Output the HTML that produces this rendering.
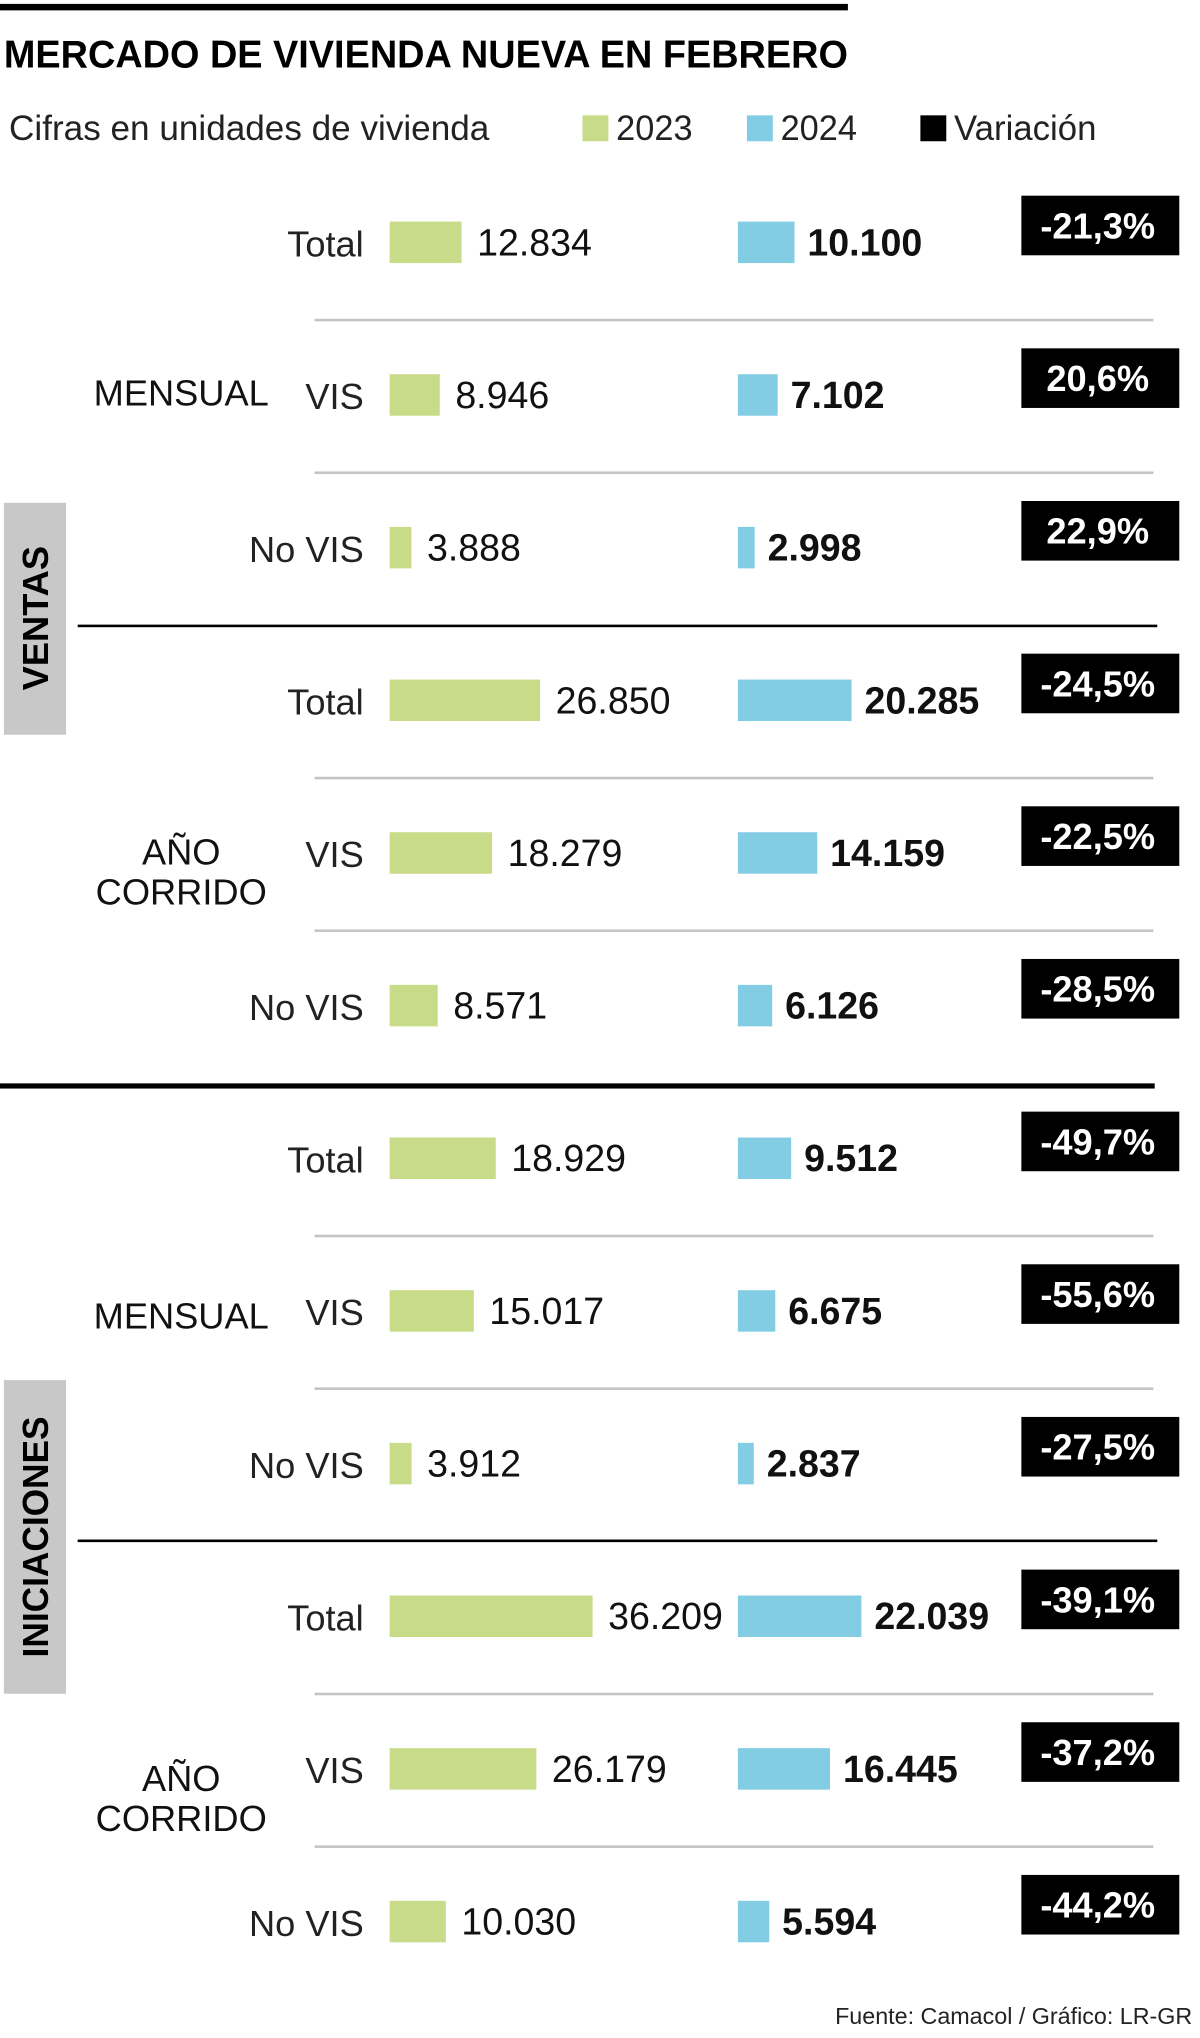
<!DOCTYPE html>
<html><head><meta charset="utf-8"><style>
html,body{margin:0;padding:0;background:#fff;width:1200px;height:2032px;overflow:hidden}
#w{position:absolute;left:0;top:0;width:927px;height:1568px;transform-origin:0 0;transform:scale(1.2945,1.2959);font-family:"Liberation Sans",sans-serif}
svg text{font-family:"Liberation Sans",sans-serif}
</style></head><body>
<div id="w">
<svg id="s" width="927" height="1568">
<rect x="0" y="3" width="655" height="5" fill="#000"/>
<text x="3" y="52" font-size="30" font-weight="bold" textLength="652" lengthAdjust="spacingAndGlyphs">MERCADO DE VIVIENDA NUEVA EN FEBRERO</text>
<text x="7" y="108" font-size="27" fill="#222" textLength="371" lengthAdjust="spacingAndGlyphs">Cifras en unidades de vivienda</text>
<rect x="450" y="89" width="20" height="20" fill="#c8db88"/>
<text x="476" y="108" font-size="27" fill="#222" textLength="59" lengthAdjust="spacingAndGlyphs">2023</text>
<rect x="577" y="89" width="20" height="20" fill="#82cde4"/>
<text x="603" y="108" font-size="27" fill="#222" textLength="59" lengthAdjust="spacingAndGlyphs">2024</text>
<rect x="711" y="89" width="20" height="20" fill="#000"/>
<text x="737" y="108" font-size="27" fill="#222" textLength="110" lengthAdjust="spacingAndGlyphs">Variación</text>
<rect x="3" y="388" width="48" height="179" fill="#c8c8c8"/>
<text transform="translate(37,477) rotate(-90)" text-anchor="middle" font-size="28" font-weight="bold">VENTAS</text>
<rect x="3" y="1065" width="48" height="242" fill="#c8c8c8"/>
<text transform="translate(37,1186) rotate(-90)" text-anchor="middle" font-size="28" font-weight="bold" textLength="186" lengthAdjust="spacingAndGlyphs">INICIACIONES</text>
<rect x="60" y="482" width="834" height="2" fill="#000"/>
<rect x="0" y="836" width="892" height="4" fill="#000"/>
<rect x="60" y="1188" width="834" height="2" fill="#000"/>
<g font-size="28" fill="#111">
<text x="140" y="313" text-anchor="middle">MENSUAL</text>
<text x="140" y="667" text-anchor="middle">AÑO</text>
<text x="140" y="698" text-anchor="middle">CORRIDO</text>
<text x="140" y="1025" text-anchor="middle">MENSUAL</text>
<text x="140" y="1382" text-anchor="middle">AÑO</text>
<text x="140" y="1413" text-anchor="middle">CORRIDO</text>
</g>
<g id="rows"></g>
<text x="921" y="1562" text-anchor="end" font-size="18" fill="#222">Fuente: Camacol / Gráfico: LR-GR</text>
</svg>
</div>
<script>
const categories = ["Total","VIS","No VIS","Total","VIS","No VIS","Total","VIS","No VIS","Total","VIS","No VIS"];
const values2023 = [12834,8946,3888,26850,18279,8571,18929,15017,3912,36209,26179,10030];
const values2024 = [10100,7102,2998,20285,14159,6126,9512,6675,2837,22039,16445,5594];
const variation = ["-21,3%","20,6%","22,9%","-24,5%","-22,5%","-28,5%","-49,7%","-55,6%","-27,5%","-39,1%","-37,2%","-44,2%"];
const fmt = v => String(v).replace(/\B(?=(\d{3})+(?!\d))/g, ".");
const xScale = v => v * 0.00433;
const rowY = i => 187 + i * 117.8;
const NS = "http://www.w3.org/2000/svg";
const g = document.getElementById("rows");
function mk(tag, attrs, txt){const e=document.createElementNS(NS,tag);for(const k in attrs)e.setAttribute(k,attrs[k]);if(txt!==undefined)e.textContent=txt;g.appendChild(e);return e;}
categories.forEach((c,i)=>{
  const y = rowY(i);
  let e = mk("text",{x:281,y:y+11,"text-anchor":"end","font-size":28,fill:"#222"},c);
  
  
  const w1 = xScale(values2023[i]);
  e = mk("rect",{x:301,y:y-16,width:w1,height:32,fill:"#c8db88"});
  
  
  e = mk("text",{x:301+w1+12,y:y+10,"font-size":29,fill:"#111"},fmt(values2023[i]));
  
  
  const w2 = xScale(values2024[i]);
  e = mk("rect",{x:570,y:y-16,width:w2,height:32,fill:"#82cde4"});
  
  
  e = mk("text",{x:570+w2+10,y:y+10,"font-size":29,"font-weight":"bold",fill:"#111"},fmt(values2024[i]));
  
  
  e = mk("rect",{x:789,y:y-36,width:122,height:46,fill:"#000"});
  
  
  e = mk("text",{x:848,y:y-3,"text-anchor":"middle","font-size":28,"font-weight":"bold",fill:"#fff"},variation[i]);
  
  
  if(i%3!==2){
    e = mk("rect",{x:243,y:y+59,width:648,height:2,fill:"#c4c4c4"});
    
    
  }
});
</script>
</body></html>
